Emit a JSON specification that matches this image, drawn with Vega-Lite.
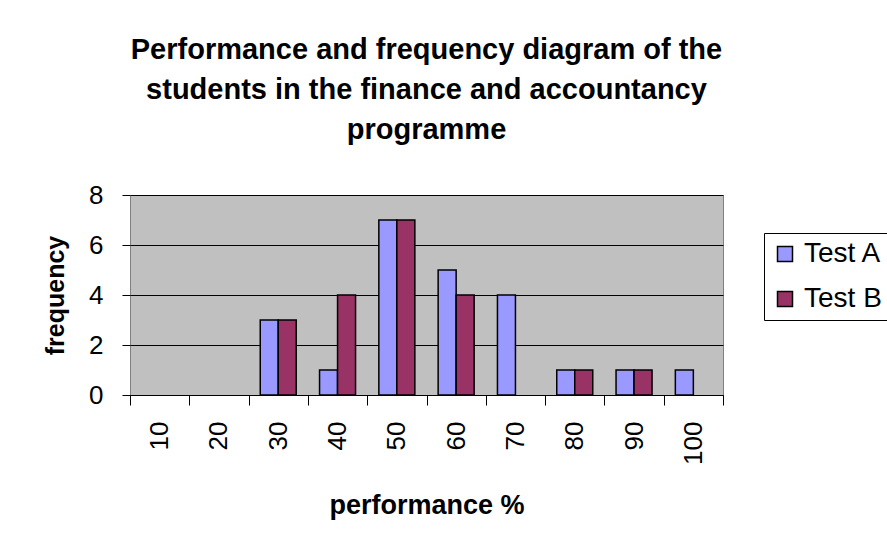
{
  "$schema": "https://vega.github.io/schema/vega-lite/v6.json",
  "autosize": "none",
  "width": 593,
  "height": 200,
  "padding": {"left": 130, "top": 195, "right": 164, "bottom": 156},
  "background": "white",
  "title": {
    "text": ["Performance and frequency diagram of the", "students in the finance and accountancy", "programme"],
    "font": "Liberation Sans",
    "fontSize": 29,
    "fontWeight": "bold",
    "color": "black",
    "anchor": "middle",
    "lineHeight": 40,
    "offset": 37
  },
  "data": {
    "values": [
      {"performance": "10", "test": "Test A", "frequency": 0},
      {"performance": "10", "test": "Test B", "frequency": 0},
      {"performance": "20", "test": "Test A", "frequency": 0},
      {"performance": "20", "test": "Test B", "frequency": 0},
      {"performance": "30", "test": "Test A", "frequency": 3},
      {"performance": "30", "test": "Test B", "frequency": 3},
      {"performance": "40", "test": "Test A", "frequency": 1},
      {"performance": "40", "test": "Test B", "frequency": 4},
      {"performance": "50", "test": "Test A", "frequency": 7},
      {"performance": "50", "test": "Test B", "frequency": 7},
      {"performance": "60", "test": "Test A", "frequency": 5},
      {"performance": "60", "test": "Test B", "frequency": 4},
      {"performance": "70", "test": "Test A", "frequency": 4},
      {"performance": "70", "test": "Test B", "frequency": 0},
      {"performance": "80", "test": "Test A", "frequency": 1},
      {"performance": "80", "test": "Test B", "frequency": 1},
      {"performance": "90", "test": "Test A", "frequency": 1},
      {"performance": "90", "test": "Test B", "frequency": 1},
      {"performance": "100", "test": "Test A", "frequency": 1},
      {"performance": "100", "test": "Test B", "frequency": 0}
    ]
  },
  "transform": [{"filter": "datum.frequency > 0"}],
  "mark": {"type": "bar", "stroke": "black", "strokeWidth": 1.5},
  "encoding": {
    "x": {
      "field": "performance",
      "type": "ordinal",
      "scale": {"domain": ["10", "20", "30", "40", "50", "60", "70", "80", "90", "100"], "paddingInner": 0, "paddingOuter": 0},
      "axis": {
        "title": "performance %",
        "titleFont": "Liberation Sans",
        "titleFontSize": 27,
        "titleFontWeight": "bold",
        "titleColor": "black",
        "titlePadding": 28,
        "labelFont": "Liberation Sans",
        "labelFontSize": 26,
        "labelColor": "black",
        "labelAngle": -90,
        "labelPadding": 16,
        "tickBand": "extent",
        "tickSize": 10,
        "tickColor": "black",
        "domainColor": "black",
        "domainWidth": 1,
        "grid": false
      }
    },
    "xOffset": {
      "field": "test",
      "type": "nominal",
      "scale": {"domain": ["Test A", "Test B"], "paddingInner": 0, "paddingOuter": 0.647}
    },
    "y": {
      "field": "frequency",
      "type": "quantitative",
      "scale": {"domain": [0, 8], "nice": false},
      "axis": {
        "title": "frequency",
        "titleFont": "Liberation Sans",
        "titleFontSize": 25,
        "titleFontWeight": "bold",
        "titleColor": "black",
        "titlePadding": 20,
        "values": [0, 2, 4, 6, 8],
        "labelFont": "Liberation Sans",
        "labelFontSize": 26,
        "labelColor": "black",
        "labelPadding": 19,
        "tickSize": 8,
        "tickColor": "black",
        "domain": false,
        "grid": true,
        "gridColor": "black",
        "gridOpacity": 1,
        "gridWidth": 1
      }
    },
    "color": {
      "field": "test",
      "type": "nominal",
      "scale": {"domain": ["Test A", "Test B"], "range": ["#9999FF", "#993366"]},
      "legend": {
        "title": null,
        "orient": "none",
        "legendX": 634,
        "legendY": 38,
        "direction": "vertical",
        "symbolType": "square",
        "symbolSize": 225,
        "symbolStrokeColor": "black",
        "symbolStrokeWidth": 1.5,
        "symbolOpacity": 1,
        "labelFont": "Liberation Sans",
        "labelFontSize": 28,
        "labelColor": "black",
        "labelOffset": 5,
        "rowPadding": 17,
        "padding": 7,
        "strokeColor": "black",
        "fillColor": "white"
      }
    }
  },
  "config": {
    "view": {"fill": "#C0C0C0", "stroke": "#808080", "strokeWidth": 1}
  }
}
